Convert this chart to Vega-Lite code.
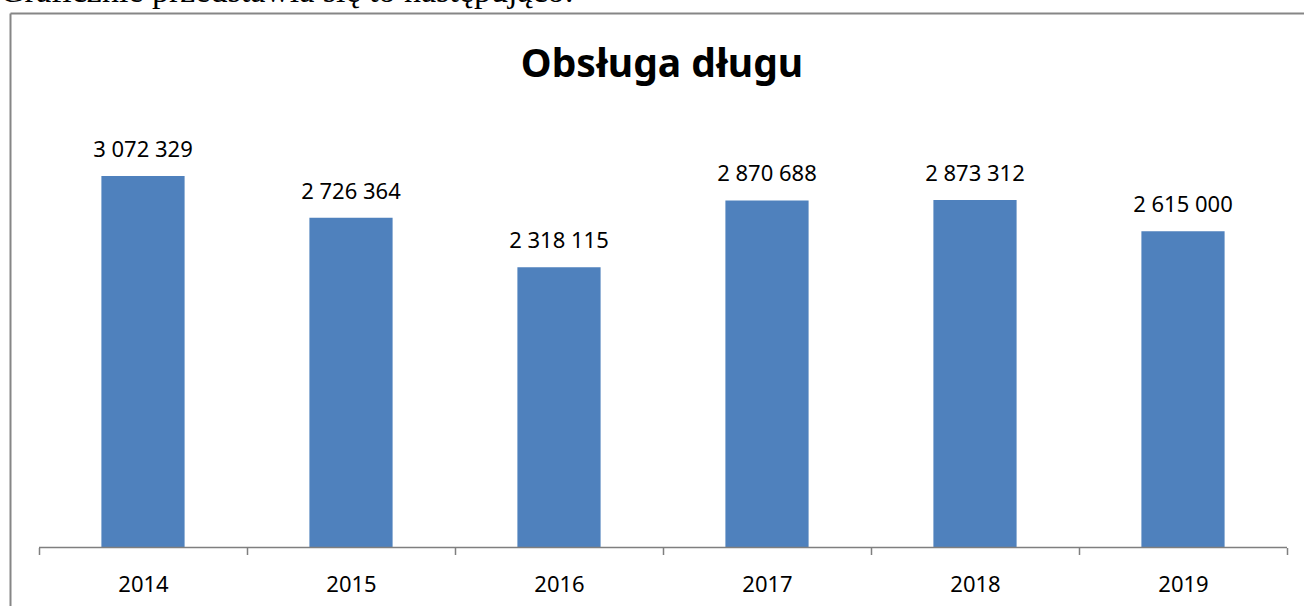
{
  "$schema": "https://vega.github.io/schema/vega-lite/v6.json",
  "usermeta": {"embedOptions": {"actions": false}},
  "autosize": {"type": "none"},
  "padding": {"left": 10, "top": 13, "right": 0, "bottom": 0},
  "width": 1294,
  "height": 593,
  "background": "white",
  "title": {
    "text": "Graficznie przedstawia się to następująco:",
    "anchor": "start",
    "frame": "group",
    "dx": -10,
    "dy": 23,
    "offset": 0,
    "baseline": "alphabetic",
    "font": "Liberation Serif",
    "fontSize": 34,
    "fontWeight": "normal",
    "color": "#000000"
  },
  "data": {
    "values": [
      {"year": "2014", "value": 3072329},
      {"year": "2015", "value": 2726364},
      {"year": "2016", "value": 2318115},
      {"year": "2017", "value": 2870688},
      {"year": "2018", "value": 2873312},
      {"year": "2019", "value": 2615000}
    ]
  },
  "layer": [
    {
      "mark": {"type": "bar", "color": "#4F81BD", "width": {"band": 0.4}},
      "encoding": {
        "x": {
          "field": "year", "type": "ordinal", "sort": null,
          "scale": {"paddingInner": 0, "paddingOuter": 0.110577, "align": 0.6304},
          "axis": {
            "orient": "bottom", "offset": -58.5, "title": null, "domain": false,
            "ticks": true, "tickBand": "extent", "tickSize": 7, "tickColor": "#7f7f7f", "tickWidth": 1.5,
            "labelFont": "Noto Sans", "labelFontSize": 22, "labelColor": "#000000",
            "labelBaseline": "alphabetic", "labelPadding": 37, "labelAngle": 0, "grid": false
          }
        },
        "y": {
          "field": "value", "type": "quantitative",
          "scale": {"domain": [-483790, 4420280], "nice": false, "zero": false},
          "axis": {
            "orient": "left", "title": "Obsługa długu", "titleX": 651.5, "titleY": 63,
            "titleAngle": 0, "titleAlign": "center", "titleBaseline": "alphabetic",
            "titleFont": "Noto Sans", "titleFontSize": 39, "titleFontWeight": "bold", "titleColor": "#000000",
            "domain": true, "domainColor": "#868686", "domainWidth": 2,
            "ticks": false, "labels": false,
            "grid": true, "values": [4420280], "gridColor": "#868686", "gridWidth": 2
          }
        }
      }
    },
    {
      "mark": {"type": "rule", "color": "#7f7f7f", "strokeWidth": 1.5},
      "encoding": {
        "x": {
          "field": "year", "type": "ordinal", "sort": null, "bandPosition": 0,
          "scale": {"paddingInner": 0, "paddingOuter": 0.110577, "align": 0.6304},
          "axis": {
            "orient": "bottom", "offset": -58.5, "title": null, "domain": false,
            "ticks": true, "tickBand": "extent", "tickSize": 7, "tickColor": "#7f7f7f", "tickWidth": 1.5,
            "labelFont": "Noto Sans", "labelFontSize": 22, "labelColor": "#000000",
            "labelBaseline": "alphabetic", "labelPadding": 37, "labelAngle": 0, "grid": false
          }
        },
        "x2": {"field": "year", "bandPosition": 1},
        "y": {"datum": 0, "type": "quantitative"}
      }
    },
    {
      "mark": {"type": "text", "dy": -19, "baseline": "alphabetic", "font": "Noto Sans", "fontSize": 22, "color": "#000000"},
      "encoding": {
        "x": {"field": "year", "type": "ordinal", "sort": null},
        "y": {"field": "value", "type": "quantitative"},
        "text": {"field": "value", "type": "quantitative", "format": ",d"}
      }
    }
  ],
  "config": {
    "view": {"stroke": null},
    "locale": {"number": {"decimal": ",", "thousands": " ", "grouping": [3], "currency": ["", ""]}}
  }
}
